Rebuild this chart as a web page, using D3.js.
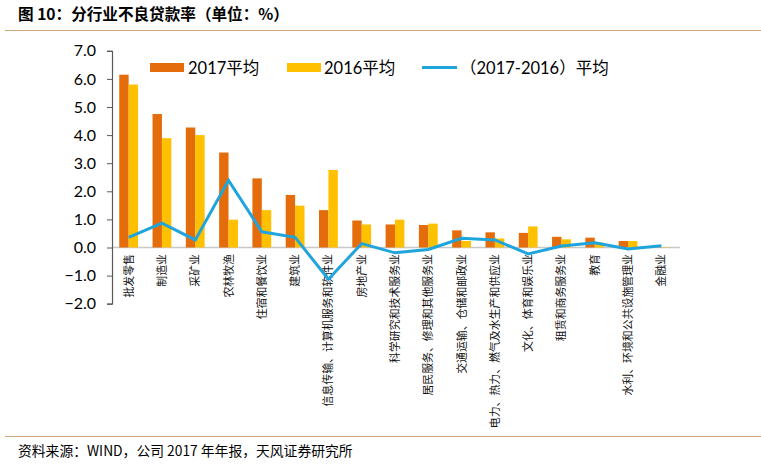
<!DOCTYPE html>
<html><head><meta charset="utf-8">
<script src="https://cdn.jsdelivr.net/npm/d3@7"></script>
<style>body{margin:0;background:#fff}svg{display:block}</style>
</head><body>
<script>
const categories = ["批发零售","制造业","采矿业","农林牧渔","住宿和餐饮业","建筑业","信息传输、计算机服务和软件业","房地产业","科学研究和技术服务业","居民服务、修理和其他服务业","交通运输、仓储和邮政业","电力、热力、燃气及水生产和供应业","文化、体育和娱乐业","租赁和商务服务业","教育","水利、环境和公共设施管理业","金融业"];
const avg2017 = [6.15,4.75,4.27,3.38,2.46,1.87,1.33,0.96,0.82,0.80,0.61,0.54,0.52,0.38,0.35,0.23,0.01];
const avg2016 = [5.80,3.89,4.00,0.99,1.33,1.49,2.76,0.82,0.99,0.85,0.23,0.32,0.75,0.29,0.17,0.23,0.01];
const diffAvg = [0.36,0.87,0.27,2.39,0.56,0.36,-1.13,0.14,-0.19,-0.07,0.33,0.27,-0.23,0.05,0.17,-0.05,0.06];
const yTicks = [7,6,5,4,3,2,1,0,-1,-2];
const seriesNames = ["2017平均","2016平均","（2017-2016）平均"];
const colors = ["#E46C0A","#FFC000","#1FA5DB"];

const W=761,H=465;
const svg=d3.select("body").append("svg").attr("width",W).attr("height",H);
svg.append("rect").attr("width",W).attr("height",H).attr("fill","#fff");

// title
svg.append("text").attr("x",18).attr("y",20).attr("font-family","'Noto Sans CJK SC'")
  .attr("font-weight","bold").attr("font-size",15.6).attr("fill","#000")
  .text("图 10：分行业不良贷款率（单位：%）");
svg.append("line").attr("x1",5).attr("x2",W).attr("y1",30.5).attr("y2",30.5)
  .attr("stroke","#CFA57A").attr("stroke-width",1);
svg.append("line").attr("x1",5).attr("x2",W).attr("y1",436.5).attr("y2",436.5)
  .attr("stroke","#CFA57A").attr("stroke-width",1);
svg.append("text").attr("x",18).attr("y",456).attr("font-family","'Noto Sans CJK SC'")
  .attr("font-size",13.8).attr("fill","#000")
  .text("资料来源：WIND，公司 2017 年年报，天风证券研究所");

const x=d3.scaleBand().domain(categories).range([112,678]).padding(0);
const y=d3.scaleLinear().domain([-2,7]).range([303.7,50.8]);
const bw=9.4;

const g=svg.append("g");
// zero line
g.append("line").attr("x1",112).attr("x2",680).attr("y1",y(0)).attr("y2",y(0))
  .attr("stroke","#C8C8C8").attr("stroke-width",1.5);

// y axis
const yAxis=d3.axisLeft(y).tickValues(yTicks).tickFormat(d3.format(".1f")).tickSize(5).tickPadding(11);
const ya=g.append("g").attr("transform","translate(112,0)").call(yAxis);
ya.select(".domain").attr("stroke","#595959").attr("stroke-width",1.2);
ya.selectAll(".tick line").attr("stroke","#595959");
ya.selectAll(".tick text").attr("font-family","Lato").attr("font-size",16).attr("fill","#000");

// bars
g.selectAll(".b17").data(avg2017).enter().append("rect")
  .attr("x",(d,i)=>x(categories[i])+x.bandwidth()/2-bw).attr("width",bw)
  .attr("y",d=>y(Math.max(d,0))).attr("height",d=>Math.abs(y(d)-y(0)))
  .attr("fill",colors[0]);
g.selectAll(".b16").data(avg2016).enter().append("rect")
  .attr("x",(d,i)=>x(categories[i])+x.bandwidth()/2).attr("width",bw)
  .attr("y",d=>y(Math.max(d,0))).attr("height",d=>Math.abs(y(d)-y(0)))
  .attr("fill",colors[1]);

// category labels
g.selectAll(".cl").data(categories).enter().append("text")
  .attr("transform",d=>`translate(${x(d)+x.bandwidth()/2+4},254) rotate(-90)`)
  .attr("text-anchor","end").attr("font-family","'Noto Sans CJK SC'").attr("font-size",10.9)
  .attr("fill","#111").text(d=>d);

// line
const line=d3.line().x((d,i)=>x(categories[i])+x.bandwidth()/2).y(d=>y(d));
g.append("path").datum(diffAvg).attr("d",line).attr("fill","none")
  .attr("stroke",colors[2]).attr("stroke-width",3);

// legend
const lg=svg.append("g");
const lx=[150,287,422];
lg.append("rect").attr("x",lx[0]).attr("y",63).attr("width",34).attr("height",9).attr("fill",colors[0]);
lg.append("rect").attr("x",lx[1]).attr("y",63).attr("width",34).attr("height",9).attr("fill",colors[1]);
lg.append("line").attr("x1",lx[2]).attr("x2",lx[2]+35).attr("y1",67.5).attr("y2",67.5).attr("stroke",colors[2]).attr("stroke-width",3);
const tx=[188,324,460];
seriesNames.forEach((n,i)=>{
  lg.append("text").attr("x",tx[i]).attr("y",74).attr("font-family","Lato, 'Noto Sans CJK SC'")
    .attr("font-size",16.5).attr("fill","#000").text(n);
});
</script>
</body></html>
